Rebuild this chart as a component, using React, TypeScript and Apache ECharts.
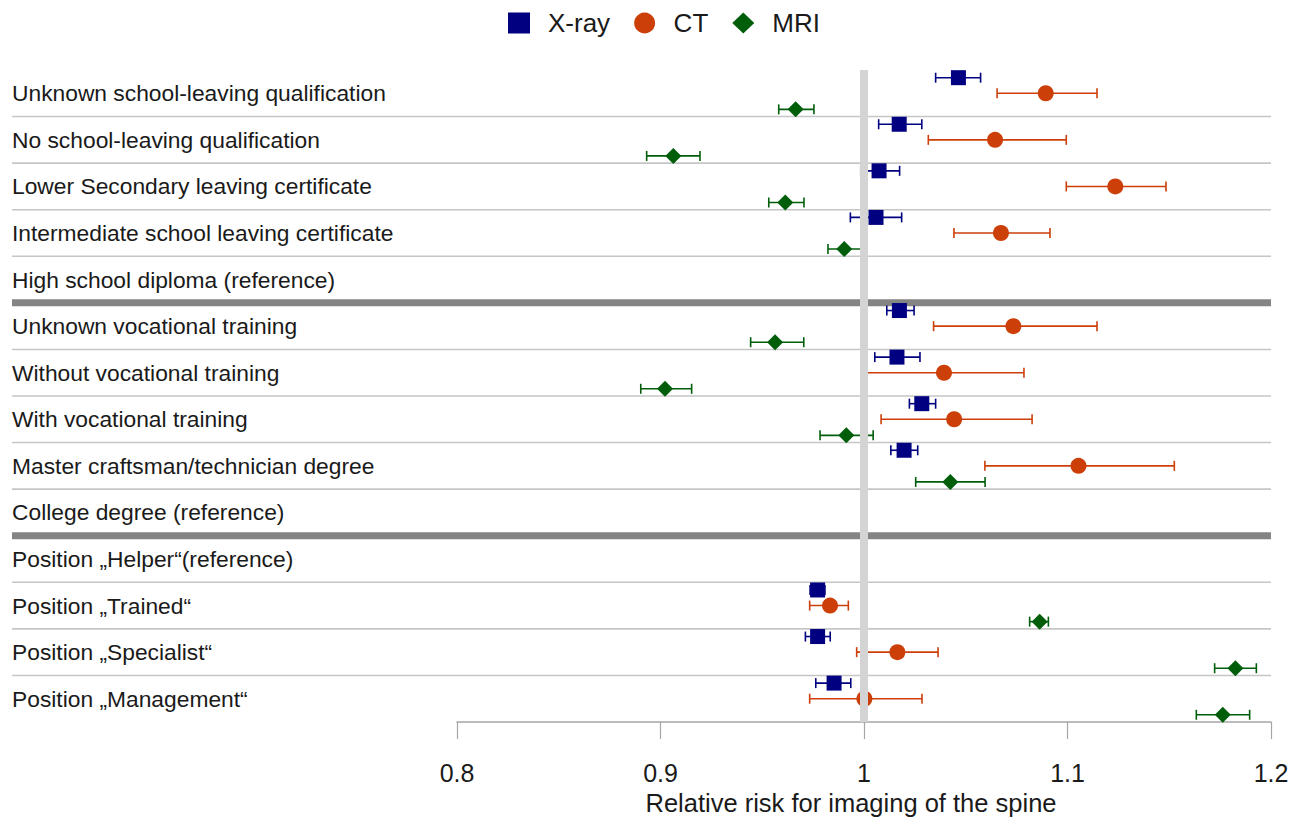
import React, { useEffect, useRef } from 'react';
import * as echarts from 'echarts';

const categories = [
  'Unknown school-leaving qualification',
  'No school-leaving qualification',
  'Lower Secondary leaving certificate',
  'Intermediate school leaving certificate',
  'High school diploma (reference)',
  'Unknown vocational training',
  'Without vocational training',
  'With vocational training',
  'Master craftsman/technician degree',
  'College degree (reference)',
  'Position \u201EHelper\u201C(reference)',
  'Position \u201ETrained\u201C',
  'Position \u201ESpecialist\u201C',
  'Position \u201EManagement\u201C',
];

const xrayEst = [1.0464, 1.0173, 1.0074, 1.0059, null, 1.0174, 1.0162, 1.0284, 1.0197, null, null, 0.9772, 0.9772, 0.9853];
const xrayLow = [1.0352, 1.0072, 0.9984, 0.9933, null, 1.0112, 1.0053, 1.0223, 1.0132, null, null, 0.9735, 0.9712, 0.9763];
const xrayHigh = [1.0573, 1.0284, 1.0175, 1.0185, null, 1.0246, 1.0275, 1.0352, 1.0264, null, null, 0.9808, 0.9834, 0.9935];

const ctEst = [1.0893, 1.0644, 1.1235, 1.0673, null, 1.0734, 1.0393, 1.0443, 1.1054, null, null, 0.9833, 1.0164, 1.0002];
const ctLow = [1.0654, 1.0316, 1.0994, 1.0442, null, 1.0342, 1.0013, 1.0084, 1.0594, null, null, 0.9733, 0.9964, 0.9733];
const ctHigh = [1.1145, 1.0994, 1.1484, 1.0914, null, 1.1145, 1.0786, 1.0826, 1.1525, null, null, 0.9923, 1.0364, 1.0285];

const mriEst = [0.9664, 0.9063, 0.9613, 0.9903, null, 0.9563, 0.9022, 0.9913, 1.0424, null, null, 1.0863, 1.1825, 1.1763];
const mriLow = [0.9581, 0.8932, 0.9532, 0.9823, null, 0.9443, 0.8903, 0.9784, 1.0254, null, null, 1.0814, 1.1723, 1.1633];
const mriHigh = [0.9754, 0.9194, 0.9705, 0.9997, null, 0.9704, 0.9153, 1.0045, 1.0595, null, null, 1.0906, 1.1928, 1.1895];

const xMin = 0.8;
const xMax = 1.2;
const xStep = 0.1;
const referenceValue = 1;
const groupEnds = [4, 9];

const FONT = '"Liberation Sans", Arial, Helvetica, sans-serif';
const TEXT = '#1a1a1a';
const C_XRAY = '#000080';
const C_CT = '#cc3f08';
const C_MRI = '#005e0a';

const OFF = { xray: 0.165, ct: 0.5, mri: 0.845 };

function pointData(est: (number | null)[], off: number) {
  const out: number[][] = [];
  est.forEach((v, i) => {
    if (v != null) out.push([v, i + off]);
  });
  return out;
}

function barData(lo: (number | null)[], hi: (number | null)[], off: number) {
  const out: number[][] = [];
  lo.forEach((v, i) => {
    const h = hi[i];
    if (v != null && h != null) out.push([v, h, i + off]);
  });
  return out;
}

function errorSeries(name: string, data: number[][], color: string) {
  return {
    type: 'custom',
    name: name + ' CI',
    xAxisIndex: 0,
    yAxisIndex: 0,
    z: 3,
    silent: true,
    clip: false,
    encode: { x: [0, 1], y: 2 },
    data,
    renderItem: (params: any, api: any) => {
      const y = api.value(2);
      const a = api.coord([api.value(0), y]);
      const b = api.coord([api.value(1), y]);
      const cap = 5;
      const st = { stroke: color, lineWidth: 1.6 };
      return {
        type: 'group',
        children: [
          { type: 'line', shape: { x1: a[0], y1: a[1], x2: b[0], y2: b[1] }, style: st },
          { type: 'line', shape: { x1: a[0], y1: a[1] - cap, x2: a[0], y2: a[1] + cap }, style: st },
          { type: 'line', shape: { x1: b[0], y1: b[1] - cap, x2: b[0], y2: b[1] + cap }, style: st },
        ],
      };
    },
  };
}

export default function App() {
  const ref = useRef<HTMLDivElement>(null);

  useEffect(() => {
    if (!ref.current) return;
    const chart = echarts.init(ref.current, undefined, { renderer: 'svg' });

    const separators: number[][] = [];
    for (let b = 1; b < categories.length; b++) {
      separators.push([xMin, b, groupEnds.includes(b - 1) ? 1 : 0]);
    }

    const option: any = {
      animation: false,
      backgroundColor: '#ffffff',
      textStyle: { fontFamily: FONT },
      legend: {
        top: 5,
        left: 503,
        itemWidth: 22,
        itemHeight: 21,
        itemGap: 24,
        textStyle: { fontSize: 26, color: TEXT, fontFamily: FONT, padding: [0, 0, 0, 13] },
        data: [
          { name: 'X-ray', icon: 'rect' },
          { name: 'CT', icon: 'circle' },
          { name: 'MRI', icon: 'diamond' },
        ],
        selectedMode: false,
      },
      grid: {
        left: 457,
        right: 35,
        top: 70,
        bottom: 98,
        outerBoundsMode: 'none',
      },
      xAxis: {
        type: 'value',
        position: 'bottom',
        min: xMin,
        max: xMax,
        interval: xStep,
        name: 'Relative risk for imaging of the spine',
        nameLocation: 'middle',
        nameGap: 68,
        nameTextStyle: { fontSize: 25.5, color: TEXT, fontFamily: FONT, padding: [0, 26, 0, 0] },
        axisLine: { show: true, onZero: false, lineStyle: { color: '#a6a6a6', width: 1.5 } },
        axisTick: { show: true, length: 17, lineStyle: { color: '#a6a6a6', width: 1.2 } },
        axisLabel: { fontSize: 25, color: TEXT, margin: 38, fontFamily: FONT },
        splitLine: { show: false },
      },
      yAxis: [
        {
          type: 'value',
          min: 0,
          max: categories.length,
          inverse: true,
          show: false,
          splitLine: { show: false },
        },
        {
          type: 'category',
          data: categories,
          inverse: true,
          position: 'left',
          boundaryGap: true,
          axisLine: { show: false },
          axisTick: { show: false },
          splitLine: { show: false },
          axisLabel: {
            align: 'left',
            margin: 445,
            fontSize: 22.8,
            color: TEXT,
            fontFamily: FONT,
          },
        },
      ],
      series: [
        {
          type: 'custom',
          name: 'separators',
          xAxisIndex: 0,
          yAxisIndex: 0,
          z: 1,
          silent: true,
          clip: false,
          encode: { x: 0, y: 1 },
          data: separators,
          renderItem: (params: any, api: any) => {
            const p = api.coord([api.value(0), api.value(1)]);
            const thick = api.value(2) === 1;
            const cs = params.coordSys;
            return {
              type: 'line',
              shape: { x1: 12, y1: p[1], x2: cs.x + cs.width, y2: p[1] },
              style: { stroke: thick ? '#848484' : '#c6c6c6', lineWidth: thick ? 7 : 1.6 },
            };
          },
        },
        {
          type: 'scatter',
          name: 'reference',
          xAxisIndex: 0,
          yAxisIndex: 0,
          z: 2,
          silent: true,
          data: [],
          markLine: {
            silent: true,
            symbol: ['none', 'none'],
            label: { show: false },
            lineStyle: { color: '#d4d4d4', width: 8, type: 'solid' },
            data: [{ xAxis: referenceValue }],
          },
        },
        errorSeries('X-ray', barData(xrayLow, xrayHigh, OFF.xray), C_XRAY),
        errorSeries('CT', barData(ctLow, ctHigh, OFF.ct), C_CT),
        errorSeries('MRI', barData(mriLow, mriHigh, OFF.mri), C_MRI),
        {
          type: 'scatter',
          name: 'X-ray',
          z: 4,
          symbol: 'rect',
          symbolSize: 15,
          itemStyle: { color: C_XRAY, opacity: 1 },
          data: pointData(xrayEst, OFF.xray),
        },
        {
          type: 'scatter',
          name: 'CT',
          z: 4,
          symbol: 'circle',
          symbolSize: 16,
          itemStyle: { color: C_CT, opacity: 1 },
          data: pointData(ctEst, OFF.ct),
        },
        {
          type: 'scatter',
          name: 'MRI',
          z: 4,
          symbol: 'diamond',
          symbolSize: 16,
          itemStyle: { color: C_MRI, opacity: 1 },
          data: pointData(mriEst, OFF.mri),
        },
      ],
    };

    chart.setOption(option);
    return () => chart.dispose();
  }, []);

  return (
    <div
      ref={ref}
      style={{ position: 'fixed', left: 0, top: 0, width: 1306, height: 820, background: '#fff' }}
    />
  );
}
